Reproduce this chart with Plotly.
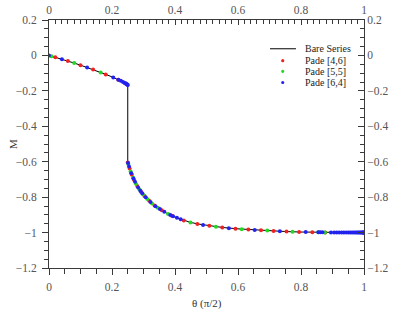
import plotly.graph_objects as go

# ---- data ----
theta_bare = [0, 0.02, 0.04, 0.06, 0.08, 0.10, 0.12, 0.14, 0.16, 0.18, 0.20, 0.22, 0.23, 0.24, 0.25,
              0.25, 0.255, 0.26, 0.265, 0.27, 0.28, 0.29, 0.30, 0.31, 0.32, 0.335, 0.35, 0.375, 0.40,
              0.425, 0.45, 0.475, 0.50, 0.55, 0.60, 0.65, 0.70, 0.75, 0.80, 0.85, 0.90, 0.95, 1.0]
m_bare = [0, -0.010, -0.021, -0.032, -0.043, -0.055, -0.067, -0.080, -0.093, -0.107, -0.121, -0.137,
          -0.145, -0.155, -0.167,
          -0.600, -0.632, -0.660, -0.683, -0.703, -0.737, -0.764, -0.787, -0.807, -0.825, -0.847,
          -0.866, -0.892, -0.913, -0.930, -0.943, -0.952, -0.959, -0.971, -0.979, -0.985, -0.990,
          -0.994, -0.997, -0.9985, -0.9995, -0.9999, -1.0]

theta_p46 = [0.02, 0.06, 0.10, 0.14, 0.18, 0.22, 0.243, 0.25, 0.256, 0.263, 0.27, 0.28, 0.292, 0.303,
             0.318, 0.335, 0.358, 0.39, 0.428, 0.471, 0.509, 0.55, 0.592, 0.633, 0.673, 0.713, 0.754,
             0.794, 0.836, 0.877]
m_p46 = [-0.010, -0.032, -0.055, -0.080, -0.107, -0.137, -0.158, -0.605, -0.638, -0.674, -0.703,
         -0.737, -0.769, -0.793, -0.821, -0.847, -0.874, -0.905, -0.932, -0.951, -0.961, -0.971,
         -0.978, -0.983, -0.987, -0.991, -0.994, -0.9965, -0.998, -0.999]

theta_p55 = [0.008, 0.08, 0.164, 0.246, 0.252, 0.259, 0.267, 0.276, 0.287, 0.298, 0.312, 0.327,
             0.345, 0.378, 0.449, 0.530, 0.612, 0.693, 0.773, 0.855, 0.876]
m_p55 = [-0.004, -0.043, -0.096, -0.160, -0.613, -0.655, -0.690, -0.724, -0.757, -0.783, -0.811,
         -0.836, -0.860, -0.895, -0.943, -0.967, -0.981, -0.989, -0.995, -0.9985, -0.999]

theta_p64 = [0, 0.041, 0.121, 0.204, 0.22, 0.228, 0.235, 0.24, 0.244, 0.247, 0.249, 0.25, 0.251,
             0.254, 0.261, 0.268, 0.273, 0.283, 0.29, 0.296, 0.307, 0.322, 0.338, 0.352, 0.366,
             0.385, 0.394, 0.406, 0.418, 0.489, 0.571, 0.653, 0.733, 0.815, 0.855, 0.861, 0.868,
             0.895, 0.905, 0.913, 0.921, 0.929, 0.936, 0.943, 0.95, 0.956, 0.962, 0.967, 0.972,
             0.977, 0.981, 0.985, 0.988, 0.991, 0.994, 0.996, 0.998, 0.999, 1.0]
m_p64 = [0, -0.021, -0.068, -0.124, -0.137, -0.143, -0.150, -0.155, -0.159, -0.162, -0.165, -0.167,
         -0.607, -0.627, -0.665, -0.695, -0.713, -0.745, -0.764, -0.778, -0.801, -0.828, -0.851,
         -0.867, -0.882, -0.901, -0.908, -0.917, -0.925, -0.957, -0.975, -0.985, -0.9925, -0.997,
         -0.9985, -0.9987, -0.9988, -0.9993, -0.9995, -0.9996, -0.9997, -0.9997, -0.9998, -0.9998,
         -0.9999, -0.9999, -0.9999, -1.0, -1.0, -1.0, -1.0, -1.0, -1.0, -1.0, -1.0, -1.0, -1.0,
         -1.0, -1.0]

series_names = ["Bare Series", "Pade [4,6]", "Pade [5,5]", "Pade [6,4]"]
series_colors = ["black", "#ee2222", "#22d822", "#2222ee"]
x_ticks = [0, 0.2, 0.4, 0.6, 0.8, 1]
y_ticks = [-1.2, -1, -0.8, -0.6, -0.4, -0.2, 0, 0.2]

FONT = "Liberation Serif, Times New Roman, serif"
AX = "#3a3a3a"
TXT = "#555555"

fig = go.Figure()
fig.add_trace(go.Scatter(x=theta_bare, y=m_bare, mode="lines", name=series_names[0],
                         line=dict(color=series_colors[0], width=1)))
for th, m, nm, col in [(theta_p46, m_p46, series_names[1], series_colors[1]),
                       (theta_p55, m_p55, series_names[2], series_colors[2]),
                       (theta_p64, m_p64, series_names[3], series_colors[3])]:
    fig.add_trace(go.Scatter(x=th, y=m, mode="markers", name=nm,
                             marker=dict(color=col, size=4, line=dict(width=0))))
# dummy trace to carry the top/right axes
fig.add_trace(go.Scatter(x=[0], y=[0], xaxis="x2", yaxis="y2", mode="markers",
                         marker=dict(opacity=0), showlegend=False, hoverinfo="skip"))

common = dict(showgrid=False, zeroline=False, showline=True, linecolor=AX, linewidth=1,
              tickcolor=AX, tickwidth=1, automargin=False,
              tickfont=dict(family=FONT, size=11.5, color=TXT))

# ---- compact legend drawn as layout decoration ----
leg_x_sym = 0.742
leg_x_txt = 0.806
leg_rows = [0.884, 0.836, 0.793, 0.748]
annotations = []
shapes = []
for i, nm in enumerate(series_names):
    annotations.append(dict(xref="paper", yref="paper", x=leg_x_txt, y=leg_rows[i], text=nm,
                            showarrow=False, xanchor="left", yanchor="middle",
                            font=dict(family=FONT, size=10, color="#222")))
    if i == 0:
        shapes.append(dict(type="line", xref="paper", yref="paper", x0=0.7016, x1=0.784,
                           y0=leg_rows[i], y1=leg_rows[i], line=dict(color="black", width=1)))
    else:
        shapes.append(dict(type="circle", xref="paper", yref="paper", xsizemode="pixel",
                           ysizemode="pixel", xanchor=leg_x_sym, yanchor=leg_rows[i],
                           x0=-1.6, x1=1.6, y0=-1.6, y1=1.6,
                           fillcolor=series_colors[i], line=dict(width=0)))

annotations.append(dict(xref="paper", yref="paper", x=0.5, y=0, yshift=-35, text="θ (π/2)",
                        showarrow=False, xanchor="center", yanchor="middle",
                        font=dict(family=FONT, size=11, color="#333")))
annotations.append(dict(xref="paper", yref="paper", x=0, xshift=-36, y=0.5, text="M",
                        textangle=-90, showarrow=False, xanchor="center", yanchor="middle",
                        font=dict(family=FONT, size=11, color="#333")))

fig.update_layout(
    width=415, height=316,
    margin=dict(l=49, r=51, t=20, b=48),
    paper_bgcolor="white", plot_bgcolor="white",
    font=dict(family=FONT, size=12, color=TXT),
    showlegend=False,
    annotations=annotations,
    shapes=shapes,
    xaxis=dict(range=[0, 1], tickvals=x_ticks, ticks="outside", ticklen=6, ticklabelstandoff=2,
               minor=dict(dtick=0.05, ticks="outside", ticklen=5, tickcolor=AX), **common),
    yaxis=dict(range=[-1.2, 0.2], tickvals=y_ticks, ticks="outside", ticklen=6,
               ticklabelstandoff=3,
               minor=dict(dtick=0.05, ticks="outside", ticklen=4, tickcolor=AX), **common),
    xaxis2=dict(range=[0, 1], tickvals=x_ticks, ticks="inside", ticklen=5, overlaying="x",
                side="top", anchor="y2",
                minor=dict(dtick=0.02, ticks="inside", ticklen=4, tickcolor=AX), **common),
    yaxis2=dict(range=[-1.2, 0.2], tickvals=y_ticks, ticks="inside", ticklen=6, overlaying="y",
                side="right", anchor="x2",
                minor=dict(dtick=0.05, ticks="inside", ticklen=4, tickcolor=AX), **common),
)

fig.write_html("out.html", config={"displayModeBar": False},
               post_script="document.body.style.margin='0';document.body.style.padding='0';")
